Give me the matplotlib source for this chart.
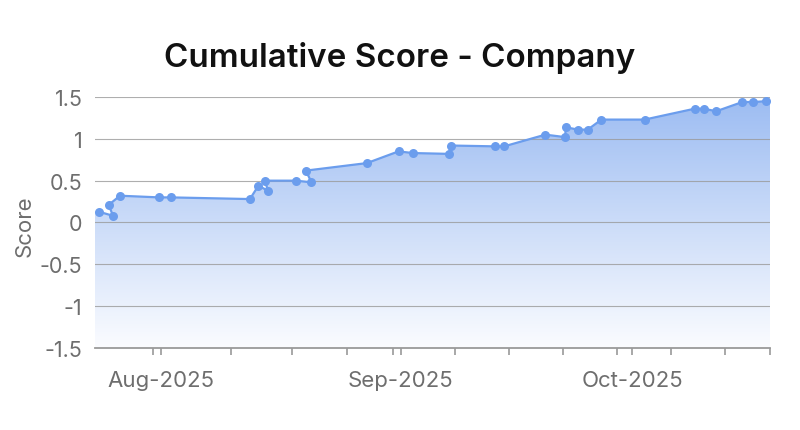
import numpy as np
import pandas as pd
import matplotlib
matplotlib.use('Agg')
import matplotlib.pyplot as plt
import matplotlib.dates as mdates
from matplotlib.ticker import FixedLocator
from matplotlib.patches import Polygon
from matplotlib.colors import LinearSegmentedColormap

plt.rcParams['font.family'] = ['Inter', 'DejaVu Sans']

# points in the order the line joins them
dates = pd.to_datetime([
    '2025-07-23 22:00', '2025-07-25 19:00', '2025-07-25 05:30', '2025-07-26 16:30',
    '2025-07-31 18:00', '2025-08-02 06:00', '2025-08-12 12:00', '2025-08-13 14:30',
    '2025-08-14 19:40', '2025-08-14 11:15', '2025-08-18 11:30', '2025-08-20 11:15',
    '2025-08-19 17:45', '2025-08-27 15:20', '2025-08-31 17:30', '2025-09-02 14:20',
    '2025-09-07 07:15', '2025-09-07 11:15', '2025-09-13 06:15', '2025-09-14 09:20',
    '2025-09-19 17:30', '2025-09-22 07:40', '2025-09-22 08:00', '2025-09-23 22:00',
    '2025-09-25 05:00', '2025-09-26 23:30', '2025-10-02 13:30', '2025-10-09 00:45',
    '2025-10-10 05:45', '2025-10-11 20:10', '2025-10-15 05:00', '2025-10-16 15:20',
    '2025-10-18 07:40',
])
scores = [0.13, 0.08, 0.21, 0.32, 0.30, 0.30, 0.28, 0.44,
          0.38, 0.50, 0.50, 0.48, 0.62, 0.71, 0.85, 0.83,
          0.82, 0.92, 0.91, 0.91, 1.05, 1.02, 1.14, 1.11,
          1.11, 1.23, 1.23, 1.36, 1.36, 1.33, 1.44, 1.44,
          1.45]

month_ticks = pd.to_datetime(['2025-08-01', '2025-09-01', '2025-10-01'])
week_ticks = pd.to_datetime(['2025-07-31 00:00', '2025-08-10 00:00', '2025-08-18 00:00',
                             '2025-08-25 00:00', '2025-08-31 00:00', '2025-09-08 00:00',
                             '2025-09-15 00:00', '2025-09-22 00:00', '2025-09-29 00:00',
                             '2025-10-06 00:00', '2025-10-13 00:00', '2025-10-18 19:00'])
x_range = pd.to_datetime(['2025-07-23 11:00', '2025-10-18 19:00'])
y_ticks = [-1.5, -1, -0.5, 0, 0.5, 1, 1.5]
y_labels = ['-1.5', '-1', '-0.5', '0', '0.5', '1', '1.5']

line_color = '#6b9ded'
text_color = '#6e6e6e'

fig = plt.figure(figsize=(8, 4.31), dpi=100)
ax = fig.add_axes([0.11875, 0.1903, 0.84375, 0.5823])

xn = mdates.date2num(dates)
ymin, ymax = -1.5, 1.5
x0, x1 = mdates.date2num(x_range[0]), mdates.date2num(x_range[1])

# gradient area under the line, carried flat to the plot edges
verts = ([(x0, scores[0])] + list(zip(xn, scores)) +
         [(x1, scores[-1]), (x1, ymin), (x0, ymin)])
poly = Polygon(verts, closed=True, facecolor='none', edgecolor='none')
ax.add_patch(poly)
cmap = LinearSegmentedColormap.from_list('fade', ['#fbfcff', '#9cbcf2'])
grad = np.linspace(0, 1, 256).reshape(-1, 1)
im = ax.imshow(grad, aspect='auto', cmap=cmap, origin='lower',
               extent=[x0, x1, ymin, ymax], zorder=1)
im.set_clip_path(poly)

for yt in y_ticks[1:]:
    ax.axhline(yt, color='#9a9a9a', lw=0.8, alpha=0.8, zorder=2)

ax.plot(xn, scores, color=line_color, lw=1.6, marker='o', ms=6.5,
        markeredgewidth=0, zorder=3, clip_on=False)

ax.set_xlim(x0, x1)
ax.set_ylim(ymin, ymax)
ax.set_yticks(y_ticks)
ax.set_yticklabels(y_labels)

ax.xaxis.set_major_locator(FixedLocator(mdates.date2num(month_ticks)))
ax.xaxis.set_minor_locator(FixedLocator(mdates.date2num(week_ticks)))
ax.xaxis.set_major_formatter(mdates.DateFormatter('%b-%Y'))

for s in ['top', 'right', 'left']:
    ax.spines[s].set_visible(False)
ax.spines['bottom'].set_color('#9a9a9a')
ax.spines['bottom'].set_linewidth(1.3)
ax.tick_params(axis='y', length=0, pad=9, labelsize=15.5, labelcolor=text_color)
ax.tick_params(axis='x', which='both', length=5, width=1.2, color='#9a9a9a',
               pad=11, labelsize=16, labelcolor=text_color)

fig.text(0.5, 0.866, 'Cumulative Score - Company', ha='center', va='center',
         fontsize=23.9, fontweight='semibold', color='#111111')
fig.text(0.031, 0.476, 'Score', rotation=90, ha='center', va='center',
         fontsize=16, color=text_color)

plt.savefig('out.png', dpi=100)
